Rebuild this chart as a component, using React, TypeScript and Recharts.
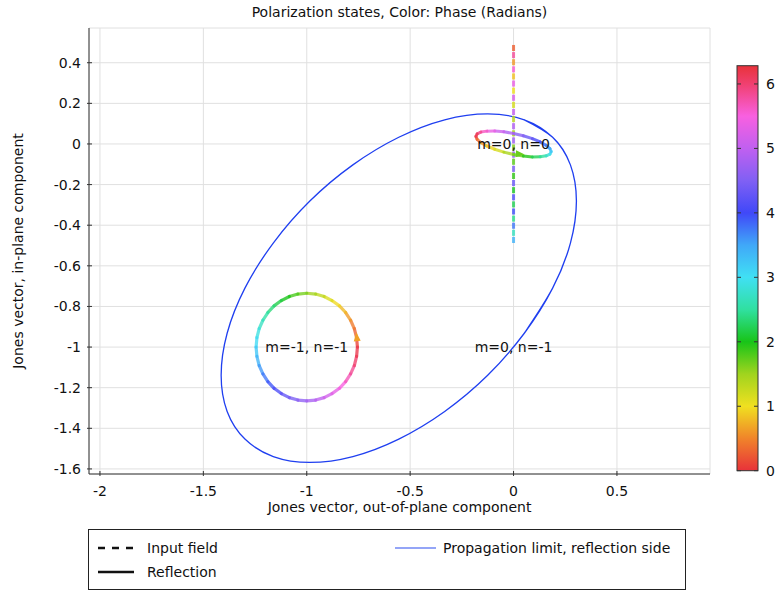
import React from "react";
import { ComposedChart, Line, Scatter, XAxis, YAxis, CartesianGrid } from "recharts";

const xTicks = [-2, -1.5, -1, -0.5, 0, 0.5];
const yTicks = [0.4, 0.2, 0, -0.2, -0.4, -0.6, -0.8, -1, -1.2, -1.4, -1.6];
const colorbarTicks = [0, 1, 2, 3, 4, 5, 6];

// propagation limit ellipse
const limitX = [0.304, 0.275, 0.189, 0.052, -0.125, -0.333, -0.555, -0.777, -0.985, -1.162, -1.299, -1.385, -1.414, -1.385, -1.299, -1.162, -0.985, -0.777, -0.555, -0.333, -0.125, 0.052, 0.189, 0.275];
const limitY = [-0.281, -0.488, -0.71, -0.932, -1.139, -1.317, -1.453, -1.539, -1.568, -1.539, -1.453, -1.317, -1.139, -0.932, -0.71, -0.488, -0.281, -0.103, 0.033, 0.119, 0.148, 0.119, 0.033, -0.103];

// reflection m=-1, n=-1 (phase in degrees at each point)
const circlePhase = [0, 10, 20, 30, 40, 50, 60, 70, 80, 90, 100, 110, 120, 130, 140, 150, 160, 170, 180, 190, 200, 210, 220, 230, 240, 250, 260, 270, 280, 290, 300, 310, 320, 330, 340, 350];
const circleX = [-0.755, -0.759, -0.77, -0.788, -0.812, -0.842, -0.878, -0.916, -0.957, -1, -1.043, -1.084, -1.123, -1.158, -1.188, -1.212, -1.23, -1.241, -1.245, -1.241, -1.23, -1.212, -1.188, -1.158, -1.123, -1.084, -1.043, -1, -0.957, -0.916, -0.878, -0.842, -0.812, -0.788, -0.77, -0.759];
const circleY = [-1, -0.954, -0.909, -0.868, -0.83, -0.797, -0.771, -0.751, -0.739, -0.735, -0.739, -0.751, -0.771, -0.797, -0.83, -0.868, -0.909, -0.954, -1, -1.046, -1.091, -1.132, -1.17, -1.203, -1.229, -1.249, -1.261, -1.265, -1.261, -1.249, -1.229, -1.203, -1.17, -1.132, -1.091, -1.046];

// reflection m=0, n=0
const innerPhase = [0, 15, 30, 45, 60, 75, 90, 105, 120, 135, 150, 165, 180, 195, 210, 225, 240, 255, 270, 285, 300, 315, 330, 345];
const innerX = [-0.182, -0.176, -0.158, -0.129, -0.091, -0.047, 0, 0.047, 0.091, 0.129, 0.158, 0.176, 0.182, 0.176, 0.158, 0.129, 0.091, 0.047, 0, -0.047, -0.091, -0.129, -0.158, -0.176];
const innerY = [0.0376, 0.0229, 0.0067, -0.01, -0.026, -0.0403, -0.0518, -0.0598, -0.0637, -0.0632, -0.0585, -0.0497, -0.0376, -0.0229, -0.0067, 0.01, 0.026, 0.0403, 0.0518, 0.0598, 0.0637, 0.0632, 0.0585, 0.0497];

// input field (linear polarization along x = 0), dash centres and phase (rad)
const dashY = [0.4725, 0.4375, 0.4025, 0.3675, 0.3325, 0.2975, 0.2625, 0.2275, 0.1925, 0.1575, 0.1225, 0.0875, 0.0525, 0.0175, -0.0175, -0.0525, -0.0875, -0.1225, -0.1575, -0.1925, -0.2275, -0.2625, -0.2975, -0.3325, -0.3675, -0.4025, -0.4375, -0.4725];
const dashPhase = [0.27, 5.82, 0.61, 5.56, 0.83, 5.37, 1.01, 5.2, 1.17, 5.04, 1.32, 4.89, 1.46, 4.75, 1.61, 4.61, 1.75, 4.46, 1.9, 4.31, 2.05, 4.15, 2.22, 3.97, 2.42, 3.75, 2.68, 3.41];

const labelText = ["m=0, n=0", "m=-1, n=-1", "m=0, n=-1"];
const labelX = [0, -1, 0];
const labelY = [0, -1, -1];

const arrowX = [-0.758, 0.03];
const arrowY = [-0.951, -0.05];
const arrowPhase = [0.65, 1.7];
const arrowAngle = [-6, 95];

const PHASE_STOPS: [number, string][] = [
  [0, "#e8323a"],
  [0.5, "#f0842a"],
  [1, "#f0e020"],
  [1.5, "#a0d41e"],
  [2, "#18c418"],
  [2.5, "#30e0a0"],
  [3, "#40e0f4"],
  [3.5, "#40a8f8"],
  [4, "#4048f8"],
  [4.5, "#8060f4"],
  [5, "#c060f0"],
  [5.5, "#f860e0"],
  [6, "#f04070"],
  [6.2832, "#e8323a"],
];

function hexToRgb(h: string) {
  return [1, 3, 5].map((i) => parseInt(h.slice(i, i + 2), 16));
}

function phaseColor(p: number) {
  const v = ((p % 6.2832) + 6.2832) % 6.2832;
  for (let i = 0; i < PHASE_STOPS.length - 1; i++) {
    const [a, ca] = PHASE_STOPS[i];
    const [b, cb] = PHASE_STOPS[i + 1];
    if (v >= a && v <= b) {
      const t = (v - a) / (b - a);
      const A = hexToRgb(ca);
      const B = hexToRgb(cb);
      const c = A.map((x, k) => Math.round(x + (B[k] - x) * t));
      return `rgb(${c[0]},${c[1]},${c[2]})`;
    }
  }
  return PHASE_STOPS[0][1];
}

const FONT = "'DejaVu Sans', sans-serif";
const fmt = (v: number) => String(v);

// wrap a few points round both ends so the natural spline closes smoothly
const pad = 3;
const n = limitX.length;
const limitData = Array.from({ length: n + 2 * pad + 1 }, (_, k) => {
  const i = (k - pad + n) % n;
  return { x: limitX[i], y: limitY[i] };
});

function segments(xs: number[], ys: number[], phase: number[]) {
  const step = phase[1] - phase[0];
  return xs.map((x, i) => {
    const j = (i + 1) % xs.length;
    return {
      data: [
        { x, y: ys[i] },
        { x: xs[j], y: ys[j] },
      ],
      color: phaseColor(((phase[i] + step / 2) * Math.PI) / 180),
    };
  });
}

const circleSegs = segments(circleX, circleY, circlePhase);
const innerSegs = segments(innerX, innerY, innerPhase);
const dashSegs = dashY.map((y, i) => ({
  data: [
    { x: 0, y: y + 0.015 },
    { x: 0, y: y - 0.015 },
  ],
  color: phaseColor(dashPhase[i]),
}));

const labelData = labelText.map((label, i) => ({ x: labelX[i], y: labelY[i], label }));
const arrowData = arrowX.map((x, i) => ({ x, y: arrowY[i], phase: arrowPhase[i], angle: arrowAngle[i] }));

const BottomTick = ({ x, y, payload }: any) => (
  <g>
    <line x1={x} x2={x} y1={y} y2={y - 5} stroke="#333" />
    <text x={x} y={y + 20} textAnchor="middle" fontSize={14} fontFamily={FONT} fill="#111">
      {fmt(payload.value)}
    </text>
  </g>
);

const LeftTick = ({ x, y, payload }: any) => (
  <g>
    <line x1={x} x2={x + 5} y1={y} y2={y} stroke="#333" />
    <text x={x - 6} y={y + 5} textAnchor="end" fontSize={14} fontFamily={FONT} fill="#111">
      {fmt(payload.value)}
    </text>
  </g>
);

const TopTick = ({ x, y }: any) => <line x1={x} x2={x} y1={y} y2={y + 5} stroke="#333" />;
const RightTick = ({ x, y }: any) => <line x1={x} x2={x - 5} y1={y} y2={y} stroke="#333" />;

const LabelShape = (props: any) => (
  <text x={props.cx} y={props.cy + 5} textAnchor="middle" fontSize={14} fontFamily={FONT} fill="#111">
    {props.payload.label}
  </text>
);

const ArrowShape = (props: any) => (
  <polygon
    points="0,-5 -3.5,4 3.5,4"
    transform={`translate(${props.cx},${props.cy}) rotate(${props.payload.angle})`}
    fill={phaseColor(props.payload.phase)}
  />
);

function Colorbar() {
  const top = 15.7;
  const h = 405;
  const max = 6.2832;
  return (
    <svg style={{ position: "absolute", left: 730, top: 50, overflow: "visible" }} width={46} height={440}>
      <defs>
        <linearGradient id="phase" x1="0" y1="1" x2="0" y2="0">
          {PHASE_STOPS.map(([p, c]) => (
            <stop key={p} offset={p / max} stopColor={c} />
          ))}
        </linearGradient>
      </defs>
      <rect x={7} y={top} width={21} height={h} fill="url(#phase)" stroke="#333" />
      {colorbarTicks.map((t) => {
        const yy = top + h - (t / max) * h;
        return (
          <g key={t}>
            <line x1={7} x2={11} y1={yy} y2={yy} stroke="#333" />
            <line x1={24} x2={28} y1={yy} y2={yy} stroke="#333" />
            <text x={36} y={yy + 5} fontSize={14} fontFamily={FONT} fill="#111">
              {t}
            </text>
          </g>
        );
      })}
    </svg>
  );
}

function LegendBox() {
  return (
    <svg style={{ position: "absolute", left: 88, top: 529 }} width={600} height={62}>
      <rect x={0.5} y={0.5} width={597} height={60} fill="#fff" stroke="#222" />
      <line x1={10} x2={46} y1={19} y2={19} stroke="#111" strokeWidth={2.5} strokeDasharray="7 7" />
      <text x={59} y={24} fontSize={14} fontFamily={FONT} fill="#111">Input field</text>
      <line x1={10} x2={46} y1={43} y2={43} stroke="#111" strokeWidth={2.5} />
      <text x={59} y={48} fontSize={14} fontFamily={FONT} fill="#111">Reflection</text>
      <line x1={307} x2={348} y1={19} y2={19} stroke="#2a4cf0" strokeWidth={1.2} />
      <text x={355} y={24} fontSize={14} fontFamily={FONT} fill="#111">Propagation limit, reflection side</text>
    </svg>
  );
}

export default function App() {
  return (
    <div style={{ position: "absolute", left: 0, top: 0, width: 776, height: 591, background: "#fff", fontFamily: FONT }}>
      <div style={{ position: "absolute", left: 89, width: 621, top: 4, textAlign: "center", fontSize: 14, color: "#111" }}>
        Polarization states, Color: Phase (Radians)
      </div>
      <ComposedChart width={776} height={591} margin={{ top: 28, right: 66, bottom: 87, left: 0 }}>
        <CartesianGrid stroke="#e0e0e0" />
        <XAxis
          type="number"
          dataKey="x"
          domain={[-2.053, 0.95]}
          ticks={xTicks}
          allowDataOverflow
          height={30}
          tickSize={0}
          tickLine={false}
          tick={<BottomTick />}
          axisLine={{ stroke: "#333" }}
          interval={0}
        />
        <XAxis
          xAxisId="top"
          orientation="top"
          type="number"
          domain={[-2.053, 0.95]}
          ticks={xTicks}
          allowDataOverflow
          height={0}
          tickSize={0}
          tickLine={false}
          tick={<TopTick />}
          axisLine={{ stroke: "#333" }}
          interval={0}
        />
        <YAxis
          type="number"
          dataKey="y"
          domain={[-1.625, 0.571]}
          ticks={yTicks}
          allowDataOverflow
          width={89}
          tickSize={0}
          tickLine={false}
          tick={<LeftTick />}
          axisLine={{ stroke: "#333" }}
          interval={0}
        />
        <YAxis
          yAxisId="right"
          orientation="right"
          type="number"
          domain={[-1.625, 0.571]}
          ticks={yTicks}
          allowDataOverflow
          width={0}
          tickSize={0}
          tickLine={false}
          tick={<RightTick />}
          axisLine={{ stroke: "#333" }}
          interval={0}
        />
        <Line
          data={limitData}
          dataKey="y"
          type="natural"
          stroke="#1f3ff0"
          strokeWidth={1.3}
          dot={false}
          activeDot={false}
          isAnimationActive={false}
        />
        {dashSegs.map((s, i) => (
          <Line
            key={`d${i}`}
            data={s.data}
            dataKey="y"
            type="linear"
            stroke={s.color}
            strokeOpacity={0.8}
            strokeWidth={3}
            dot={false}
            activeDot={false}
            isAnimationActive={false}
          />
        ))}
        {circleSegs.map((s, i) => (
          <Line
            key={`c${i}`}
            data={s.data}
            dataKey="y"
            type="linear"
            stroke={s.color}
            strokeOpacity={0.78}
            strokeWidth={3.2}
            strokeLinecap="round"
            dot={false}
            activeDot={false}
            isAnimationActive={false}
          />
        ))}
        {innerSegs.map((s, i) => (
          <Line
            key={`e${i}`}
            data={s.data}
            dataKey="y"
            type="linear"
            stroke={s.color}
            strokeOpacity={0.8}
            strokeWidth={3}
            strokeLinecap="round"
            dot={false}
            activeDot={false}
            isAnimationActive={false}
          />
        ))}
        <Scatter data={arrowData} dataKey="y" shape={<ArrowShape />} isAnimationActive={false} />
        <Scatter data={labelData} dataKey="y" shape={<LabelShape />} isAnimationActive={false} />
      </ComposedChart>
      <div style={{ position: "absolute", left: 89, width: 621, top: 499, textAlign: "center", fontSize: 14, color: "#111" }}>
        Jones vector, out-of-plane component
      </div>
      <div
        style={{
          position: "absolute",
          left: 18,
          top: 251,
          transform: "translate(-50%, -50%) rotate(-90deg)",
          whiteSpace: "nowrap",
          fontSize: 14,
          color: "#111",
        }}
      >
        Jones vector, in-plane component
      </div>
      <Colorbar />
      <LegendBox />
    </div>
  );
}
